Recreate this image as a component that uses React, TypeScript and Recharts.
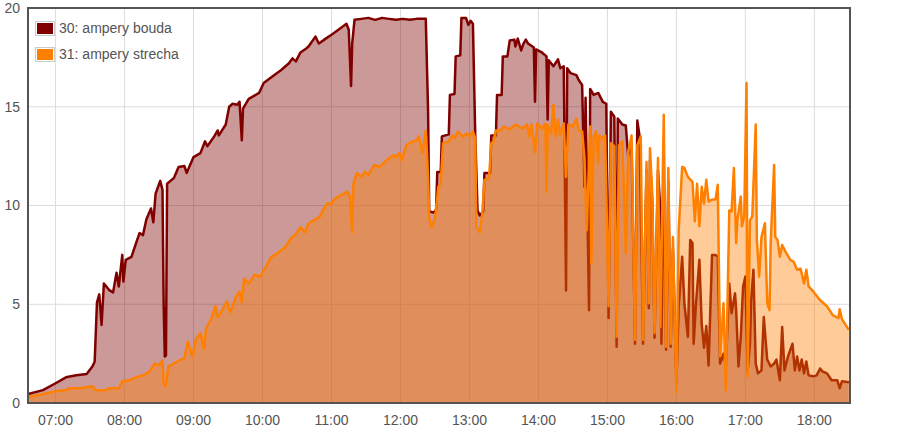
import { AreaChart, Area, XAxis, YAxis, CartesianGrid } from 'recharts';

// [time, amps]
const boudaPoints: [string, number][] = [
  ['06:36', 0.45], ['06:49', 0.65], ['07:00', 1.0], ['07:09', 1.3], ['07:18', 1.4], ['07:27', 1.47],
  ['07:32', 1.85], ['07:34', 2.1], ['07:36', 5.1], ['07:38', 5.5], ['07:40', 3.95], ['07:42', 6.05],
  ['07:47', 5.7], ['07:50', 5.6], ['07:53', 6.6], ['07:55', 5.9], ['07:58', 7.5], ['07:59', 6.15],
  ['08:01', 7.25], ['08:06', 7.4], ['08:10', 8.1], ['08:13', 8.6], ['08:16', 8.5], ['08:19', 9.3],
  ['08:23', 9.85], ['08:25', 9.15], ['08:27', 10.6], ['08:31', 11.25], ['08:33', 10.8], ['08:34', 5.0],
  ['08:35', 2.35], ['08:36', 2.4], ['08:37', 11.1], ['08:43', 11.4], ['08:47', 11.95], ['08:52', 12.0],
  ['08:54', 11.65], ['09:00', 12.45], ['09:06', 12.65], ['09:10', 13.25], ['09:12', 13.0], ['09:18', 13.5],
  ['09:21', 13.8], ['09:22', 13.55], ['09:28', 14.1], ['09:31', 15.0], ['09:34', 15.15], ['09:38', 15.1],
  ['09:40', 15.25], ['09:42', 13.3], ['09:43', 14.9], ['09:48', 15.4], ['09:57', 15.7], ['10:01', 16.2],
  ['10:10', 16.6], ['10:16', 16.85], ['10:23', 17.2], ['10:26', 17.45], ['10:29', 17.3], ['10:33', 17.75],
  ['10:38', 17.95], ['10:40', 18.05], ['10:46', 18.55], ['10:49', 18.2], ['10:55', 18.45], ['11:00', 18.65],
  ['11:06', 18.9], ['11:13', 19.2], ['11:15', 18.9], ['11:17', 16.05], ['11:18', 18.2], ['11:20', 19.4],
  ['11:26', 19.45], ['11:32', 19.5], ['11:38', 19.4], ['11:44', 19.5], ['11:50', 19.45], ['11:56', 19.4],
  ['12:02', 19.45], ['12:08', 19.4], ['12:14', 19.45], ['12:22', 19.45], ['12:24', 14.8], ['12:25', 9.7],
  ['12:29', 9.65], ['12:31', 9.8], ['12:32', 11.7], ['12:35', 11.7], ['12:36', 13.5], ['12:42', 13.6],
  ['12:43', 15.6], ['12:47', 15.65], ['12:48', 17.55], ['12:52', 17.6], ['12:53', 19.5], ['12:57', 19.5],
  ['12:59', 19.15], ['13:01', 19.35], ['13:03', 19.2], ['13:05', 13.65], ['13:07', 9.75], ['13:09', 9.5],
  ['13:12', 9.7], ['13:13', 11.65], ['13:18', 11.65], ['13:19', 13.55], ['13:23', 13.55], ['13:24', 15.6],
  ['13:28', 15.6], ['13:29', 17.55], ['13:33', 17.55], ['13:35', 18.35], ['13:39', 18.4], ['13:40', 18.05],
  ['13:42', 18.45], ['13:45', 17.85], ['13:47', 18.2], ['13:49', 18.4], ['13:51', 18.2], ['13:56', 18.0],
  ['13:57', 15.25], ['13:58', 17.9], ['14:03', 17.75], ['14:07', 17.55], ['14:08', 14.35], ['14:09', 17.35],
  ['14:13', 17.05], ['14:17', 17.4], ['14:19', 16.95], ['14:22', 17.05], ['14:24', 5.7], ['14:25', 16.95],
  ['14:28', 16.7], ['14:33', 16.6], ['14:35', 16.35], ['14:38', 16.1], ['14:40', 10.95], ['14:41', 15.45],
  ['14:44', 4.7], ['14:45', 15.9], ['14:48', 15.6], ['14:52', 15.7], ['14:56', 15.25], ['14:59', 15.15],
  ['15:01', 4.3], ['15:03', 14.75], ['15:06', 14.5], ['15:08', 2.85], ['15:09', 14.4], ['15:13', 14.1],
  ['15:16', 14.05], ['15:18', 12.5], ['15:21', 13.1], ['15:24', 3.0], ['15:26', 14.3], ['15:28', 13.5],
  ['15:31', 3.0], ['15:34', 11.8], ['15:36', 4.8], ['15:37', 12.3], ['15:39', 10.2], ['15:41', 3.3],
  ['15:44', 11.8], ['15:46', 9.75], ['15:47', 3.0], ['15:49', 12.5], ['15:51', 2.7], ['15:53', 11.2],
  ['15:55', 2.85], ['15:57', 7.8], ['16:00', 1.0], ['16:02', 4.9], ['16:05', 7.4], ['16:07', 5.0],
  ['16:10', 3.35], ['16:12', 8.25], ['16:14', 8.1], ['16:15', 3.0], ['16:17', 5.0], ['16:20', 7.25],
  ['16:22', 4.0], ['16:24', 2.8], ['16:26', 3.9], ['16:28', 1.9], ['16:31', 7.5], ['16:34', 7.5],
  ['16:36', 7.4], ['16:38', 2.0], ['16:41', 2.5], ['16:43', 1.85], ['16:46', 6.05], ['16:48', 4.55],
  ['16:51', 5.55], ['16:52', 4.7], ['16:54', 1.85], ['16:56', 3.35], ['16:58', 5.9], ['17:00', 6.4],
  ['17:02', 1.65], ['17:04', 3.0], ['17:05', 5.2], ['17:07', 6.75], ['17:09', 2.0], ['17:11', 1.5],
  ['17:14', 1.65], ['17:16', 4.35], ['17:19', 2.2], ['17:22', 1.85], ['17:25', 2.0], ['17:27', 2.2],
  ['17:30', 1.15], ['17:32', 3.85], ['17:34', 1.65], ['17:37', 2.35], ['17:41', 3.0], ['17:43', 1.65],
  ['17:45', 2.35], ['17:47', 1.65], ['17:49', 2.2], ['17:51', 1.5], ['17:53', 2.1], ['17:55', 1.4],
  ['17:59', 1.35], ['18:02', 1.4], ['18:05', 1.75], ['18:07', 1.6], ['18:11', 1.5], ['18:15', 1.15],
  ['18:20', 1.15], ['18:22', 0.75], ['18:24', 1.1], ['18:30', 1.05],
];

const strechaPoints: [string, number][] = [
  ['06:36', 0.3], ['06:49', 0.45], ['07:00', 0.6], ['07:09', 0.65], ['07:12', 0.75], ['07:21', 0.75],
  ['07:32', 0.85], ['07:35', 0.65], ['07:44', 0.65], ['07:47', 0.75], ['07:55', 0.75], ['07:58', 1.1],
  ['08:04', 1.15], ['08:10', 1.3], ['08:16', 1.4], ['08:22', 1.6], ['08:26', 2.0], ['08:30', 1.9],
  ['08:33', 2.15], ['08:34', 1.0], ['08:36', 0.85], ['08:38', 1.85], ['08:43', 2.0], ['08:49', 2.2],
  ['08:52', 2.25], ['08:55', 3.1], ['08:59', 2.35], ['09:02', 3.2], ['09:06', 3.55], ['09:09', 2.75],
  ['09:11', 3.8], ['09:15', 4.2], ['09:19', 4.9], ['09:21', 4.35], ['09:25', 4.7], ['09:29', 5.15],
  ['09:32', 4.6], ['09:37', 5.4], ['09:40', 5.65], ['09:42', 5.1], ['09:44', 6.3], ['09:48', 6.05],
  ['09:53', 6.5], ['09:58', 6.4], ['10:03', 6.9], ['10:07', 7.35], ['10:13', 7.6], ['10:19', 7.85],
  ['10:25', 8.35], ['10:29', 8.55], ['10:33', 8.9], ['10:37', 8.65], ['10:40', 9.1], ['10:46', 9.3],
  ['10:50', 9.45], ['10:52', 9.7], ['10:56', 10.1], ['11:00', 10.1], ['11:03', 10.35], ['11:09', 10.55],
  ['11:14', 10.7], ['11:16', 10.45], ['11:18', 8.65], ['11:19', 11.1], ['11:22', 11.65], ['11:26', 11.45],
  ['11:29', 11.7], ['11:32', 11.55], ['11:37', 12.05], ['11:42', 11.95], ['11:48', 12.3], ['11:54', 12.55],
  ['11:56', 12.45], ['11:59', 12.65], ['12:01', 12.3], ['12:05', 13.05], ['12:09', 13.2], ['12:14', 13.3],
  ['12:16', 13.5], ['12:19', 12.65], ['12:22', 13.8], ['12:24', 11.45], ['12:25', 9.35], ['12:27', 8.9],
  ['12:30', 9.35], ['12:33', 10.95], ['12:35', 11.1], ['12:37', 13.15], ['12:42', 13.25], ['12:45', 13.55],
  ['12:47', 13.4], ['12:50', 13.75], ['12:54', 13.5], ['12:58', 13.65], ['13:00', 13.5], ['13:03', 13.75],
  ['13:05', 13.4], ['13:06', 8.9], ['13:09', 8.65], ['13:11', 9.5], ['13:13', 11.3], ['13:17', 11.4],
  ['13:19', 13.15], ['13:21', 13.25], ['13:23', 13.8], ['13:27', 13.8], ['13:30', 14.0], ['13:35', 13.85],
  ['13:40', 14.1], ['13:46', 13.9], ['13:50', 14.1], ['13:52', 13.5], ['13:54', 14.1], ['13:57', 12.7],
  ['13:59', 14.15], ['14:03', 13.9], ['14:06', 14.15], ['14:07', 10.7], ['14:08', 14.1], ['14:11', 13.65],
  ['14:13', 15.1], ['14:15', 13.5], ['14:17', 14.35], ['14:19', 13.55], ['14:22', 14.15], ['14:24', 11.45],
  ['14:26', 14.1], ['14:30', 14.0], ['14:33', 14.4], ['14:35', 13.8], ['14:38', 13.75], ['14:40', 12.4],
  ['14:42', 8.75], ['14:45', 14.0], ['14:46', 7.05], ['14:48', 13.5], ['14:50', 13.75], ['14:52', 12.15],
  ['14:53', 13.55], ['14:56', 13.4], ['14:58', 13.55], ['15:01', 4.9], ['15:03', 13.15], ['15:06', 13.0],
  ['15:08', 3.35], ['15:10', 13.05], ['15:13', 13.25], ['15:16', 7.6], ['15:18', 12.7], ['15:21', 13.55],
  ['15:24', 3.2], ['15:26', 13.05], ['15:29', 13.5], ['15:31', 3.2], ['15:34', 12.2], ['15:36', 5.05],
  ['15:37', 12.9], ['15:39', 10.6], ['15:41', 3.55], ['15:44', 12.4], ['15:46', 3.85], ['15:49', 14.6],
  ['15:51', 2.85], ['15:53', 11.9], ['15:55', 3.0], ['15:57', 8.4], ['16:00', 0.55], ['16:02', 8.75],
  ['16:05', 11.95], ['16:07', 11.9], ['16:10', 11.45], ['16:14', 11.2], ['16:16', 9.2], ['16:18', 11.1],
  ['16:20', 8.95], ['16:22', 10.95], ['16:24', 10.1], ['16:26', 11.3], ['16:28', 10.2], ['16:31', 10.3],
  ['16:34', 10.3], ['16:36', 11.05], ['16:38', 2.35], ['16:41', 5.05], ['16:43', 0.65], ['16:46', 9.75],
  ['16:48', 9.7], ['16:50', 11.9], ['16:52', 8.1], ['16:53', 9.25], ['16:56', 10.45], ['16:57', 8.95],
  ['16:59', 9.45], ['17:01', 16.2], ['17:02', 1.35], ['17:04', 9.25], ['17:06', 9.45], ['17:09', 14.1],
  ['17:10', 8.25], ['17:12', 6.4], ['17:14', 8.4], ['17:17', 9.1], ['17:19', 5.05], ['17:21', 4.7],
  ['17:22', 8.1], ['17:25', 12.05], ['17:26', 8.4], ['17:28', 8.25], ['17:30', 7.4], ['17:32', 8.0],
  ['17:35', 7.65], ['17:39', 7.25], ['17:42', 7.15], ['17:45', 6.75], ['17:48', 6.8], ['17:51', 6.05],
  ['17:53', 6.75], ['17:55', 5.9], ['17:59', 5.65], ['18:05', 5.2], ['18:11', 4.9], ['18:16', 4.45],
  ['18:21', 4.3], ['18:22', 4.75], ['18:24', 4.25], ['18:30', 3.7],
];

const hourTicks = ['07:00', '08:00', '09:00', '10:00', '11:00', '12:00', '13:00', '14:00', '15:00', '16:00', '17:00', '18:00'];
const yTicks = [0, 5, 10, 15, 20];

const seriesNames = ['30: ampery bouda', '31: ampery strecha'];
const seriesColors = ['#800000', '#ff8000'];

const toMin = (s: string) => {
  const [h, m] = s.split(':').map(Number);
  return h * 60 + m;
};
const fmt = (v: number) => {
  const h = Math.floor(v / 60);
  const m = v % 60;
  return `${String(h).padStart(2, '0')}:${String(m).padStart(2, '0')}`;
};

const boudaData = boudaPoints.map(([t, v]) => ({ t: toMin(t), v }));
const strechaData = strechaPoints.map(([t, v]) => ({ t: toMin(t), v }));

const font = '"Liberation Sans", Arial, sans-serif';
const textColor = '#545454';

export default function App() {
  return (
    <div style={{ position: 'absolute', left: 0, top: 0, width: 908, height: 437, background: '#fff', fontFamily: font }}>
      <AreaChart width={908} height={437} margin={{ top: 8, right: 58, left: 0, bottom: 0 }}>
        <CartesianGrid stroke="#dcdcdc" strokeWidth={1} />
        <XAxis
          dataKey="t"
          type="number"
          domain={[396, 1111]}
          allowDataOverflow
          ticks={hourTicks.map(toMin)}
          tickFormatter={fmt}
          height={34}
          tickSize={10}
          tickMargin={2}
          tickLine={false}
          axisLine={false}
          tick={{ fill: textColor, fontSize: 14, fontFamily: font }}
        />
        <YAxis
          type="number"
          domain={[0, 20]}
          ticks={yTicks}
          width={28}
          tickSize={8}
          tickMargin={0}
          tickLine={false}
          axisLine={false}
          tick={{ fill: textColor, fontSize: 14, fontFamily: font }}
        />
        <Area
          data={boudaData}
          dataKey="v"
          type="linear"
          stroke={seriesColors[0]}
          strokeWidth={2.5}
          strokeLinejoin="round"
          fill={seriesColors[0]}
          fillOpacity={0.4}
          dot={false}
          activeDot={false}
          isAnimationActive={false}
        />
        <Area
          data={strechaData}
          dataKey="v"
          type="linear"
          stroke={seriesColors[1]}
          strokeWidth={2.5}
          strokeLinejoin="round"
          fill={seriesColors[1]}
          fillOpacity={0.4}
          dot={false}
          activeDot={false}
          isAnimationActive={false}
        />
      </AreaChart>
      {/* plot frame */}
      <div
        style={{
          position: 'absolute',
          left: 27,
          top: 7,
          width: 824,
          height: 397,
          border: '2px solid #545454',
          boxSizing: 'border-box',
          pointerEvents: 'none',
        }}
      />
      {/* legend */}
      <div style={{ position: 'absolute', left: 35, top: 19, fontSize: 14, color: textColor, lineHeight: '18px' }}>
        {seriesNames.map((name, i) => (
          <div key={name} style={{ display: 'flex', alignItems: 'center', height: 18, marginBottom: 8 }}>
            <div style={{ border: '1px solid #ccc', padding: 1, width: 16, height: 11, marginRight: 4 }}>
              <div style={{ width: 16, height: 11, background: seriesColors[i] }} />
            </div>
            <span>{name}</span>
          </div>
        ))}
      </div>
    </div>
  );
}
